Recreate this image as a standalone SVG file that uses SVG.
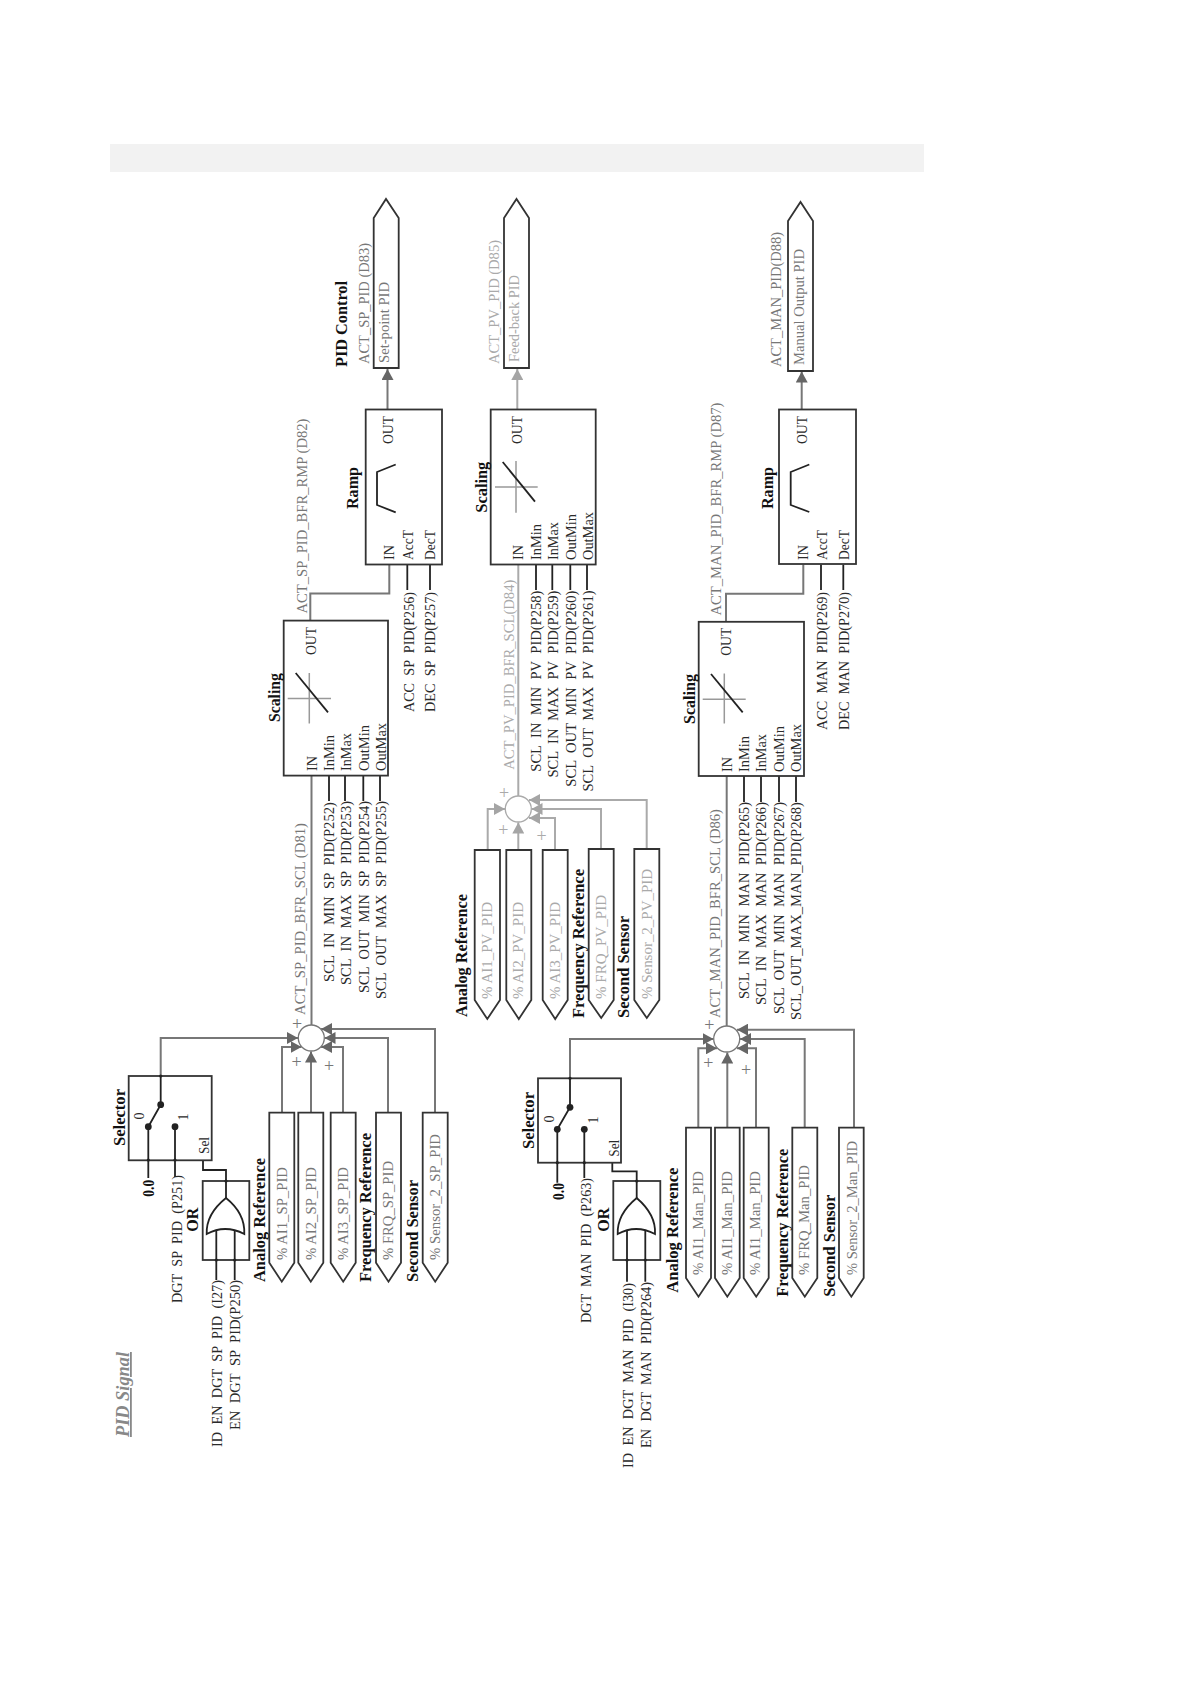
<svg xmlns="http://www.w3.org/2000/svg" width="1190" height="1684" viewBox="0 0 1190 1684">
<style>
text{font-family:"Liberation Serif","Times New Roman",serif;font-size:15px;fill:#2a2a2a}
.sp{word-spacing:4px}
.g{fill:#777}
.l{fill:#aaa}
.b{font-weight:bold;font-size:16px;fill:#111}
.s{font-size:14px}
#sp-sum text,#pv-sum text,#man-sum text{font-size:18px}
.box{fill:#fff;stroke:#333;stroke-width:1.800}
.tag{fill:#fff;stroke:#333;stroke-width:1.800}
.sum{fill:#fff;stroke:#777;stroke-width:1.300}
.suml{fill:#fff;stroke:#aaa;stroke-width:1.300}
.w{fill:none;stroke:#777;stroke-width:2}
.wl{fill:none;stroke:#aaa;stroke-width:2}
.wa{fill:none;stroke:#777;stroke-width:2;marker-end:url(#ah)}
.wal{fill:none;stroke:#aaa;stroke-width:2;marker-end:url(#ahl)}
.k{fill:none;stroke:#222;stroke-width:1.800}
.c{fill:none;stroke:#999;stroke-width:1.500}
.dot{fill:#222}
</style>
<defs>
<marker id="ah" markerUnits="userSpaceOnUse" markerWidth="12" markerHeight="12" refX="11" refY="6" orient="auto"><path d="M0 0L11 6L0 12Z" fill="#666"/></marker>
<marker id="ahl" markerUnits="userSpaceOnUse" markerWidth="12" markerHeight="12" refX="11" refY="6" orient="auto"><path d="M0 0L11 6L0 12Z" fill="#a5a5a5"/></marker>
</defs>
<rect x="110" y="144" width="814" height="28" fill="#f2f2f2"/>
<text id="title" transform="translate(129,1437) rotate(-90)" textLength="85" lengthAdjust="spacingAndGlyphs" style="font-size:18px;font-weight:bold;font-style:italic;fill:#888;text-decoration:underline">PID Signal</text>

<g id="connectors">
<path class="wa" d="M160.700 1076V1038H298"/>
<path class="wa" d="M282 1112.700V1047H301.500"/>
<path class="wa" d="M311 1112.700V1051.500"/>
<path class="wa" d="M343 1112.700V1047H321"/>
<path class="wa" d="M388 1112.700V1038H324.500"/>
<path class="wa" d="M435 1112.700V1029H321"/>
<path class="w" d="M311.500 1025V775.600"/>
<path class="w" d="M310.300 620.600V593.400H389.300V564.500"/>
<path class="wa" d="M387.500 409.500V369"/>
<path class="k" d="M329 775.600V801M345 775.600V801M363.300 775.600V801M380 775.600V801M407.300 564.500V590M430 564.500V590"/>
<path class="k" d="M148.300 1160V1178M175 1160V1177M216.300 1260V1280M234.700 1260V1280"/>
<path class="k" d="M203 1160.300V1170H226V1181"/>
<path class="wal" d="M487.700 850V809H505"/>
<path class="wal" d="M518.300 850V822.500"/>
<path class="wal" d="M555 850V818H529"/>
<path class="wal" d="M601 849V809H531.500"/>
<path class="wal" d="M646.700 849V800H529"/>
<path class="wl" d="M518.300 796V564.500"/>
<path class="wal" d="M517.300 409.500V369"/>
<path class="k" d="M536 564.500V590M552.300 564.500V590M570.300 564.500V590M587 564.500V590"/>
<path class="wa" d="M570 1078.300V1039H713.500"/>
<path class="wa" d="M698.300 1127.700V1048.300H717"/>
<path class="wa" d="M727.300 1127.700V1052.500"/>
<path class="wa" d="M756 1127.700V1048.300H737"/>
<path class="wa" d="M804.700 1127.700V1039H740"/>
<path class="wa" d="M854 1127.700V1029.700H737"/>
<path class="w" d="M726.700 1026V776"/>
<path class="w" d="M726 621.800V593.700H803.300V564.500"/>
<path class="wa" d="M801.700 409.500V371.500"/>
<path class="k" d="M744 776V802M761 776V802M779 776V802M796 776V802M821 564.500V590M843.300 564.500V590"/>
<path class="k" d="M557.300 1162.700V1182.700M584.300 1162.700V1178M627 1260V1281.700M645.300 1260V1281.700"/>
<path class="k" d="M612.300 1162.700V1171.300H636.700V1181"/>
</g>

<g id="sp-output"><path class="tag" d="M373.700 368V218L386 199L398.700 218V368Z"/>
<text class="b" transform="translate(347,367) rotate(-90)" textLength="86" lengthAdjust="spacingAndGlyphs">PID Control</text>
<text class="g" transform="translate(369,364) rotate(-90)" textLength="121" lengthAdjust="spacingAndGlyphs">ACT_SP_PID (D83)</text>
<text class="g" transform="translate(389,363) rotate(-90)" textLength="81" lengthAdjust="spacingAndGlyphs">Set-point PID</text></g>
<g id="pv-output"><path class="tag" d="M504 368V218L516.500 199L529 218V368Z"/>
<text class="l" transform="translate(499,364) rotate(-90)" textLength="124" lengthAdjust="spacingAndGlyphs">ACT_PV_PID (D85)</text>
<text class="l" transform="translate(519,362) rotate(-90)" textLength="87" lengthAdjust="spacingAndGlyphs">Feed-back PID</text></g>
<g id="man-output"><path class="tag" d="M788 371V221L800.500 202L813 221V371Z"/>
<text class="g" transform="translate(781,367) rotate(-90)" textLength="135" lengthAdjust="spacingAndGlyphs">ACT_MAN_PID(D88)</text>
<text class="g" transform="translate(804,365) rotate(-90)" textLength="116" lengthAdjust="spacingAndGlyphs">Manual Output PID</text></g>

<g id="sp-ramp"><rect class="box" x="365.700" y="409.500" width="76.300" height="155"/>
<path class="k" d="M395.700 464.500L377 472V505L395.700 512.300"/>
<text class="b" transform="translate(358,509) rotate(-90)" textLength="42" lengthAdjust="spacingAndGlyphs">Ramp</text>
<text transform="translate(393,444) rotate(-90)" textLength="28" lengthAdjust="spacingAndGlyphs">OUT</text>
<text transform="translate(394,560) rotate(-90)" textLength="15" lengthAdjust="spacingAndGlyphs">IN</text>
<text transform="translate(413,560) rotate(-90)" textLength="30" lengthAdjust="spacingAndGlyphs">AccT</text>
<text transform="translate(435,560) rotate(-90)" textLength="30" lengthAdjust="spacingAndGlyphs">DecT</text>
<text class="g" transform="translate(307,613.500) rotate(-90)" textLength="195" lengthAdjust="spacingAndGlyphs">ACT_SP_PID_BFR_RMP (D82)</text>
<text class="sp" transform="translate(414,712) rotate(-90)" textLength="120" lengthAdjust="spacingAndGlyphs">ACC SP PID(P256)</text>
<text class="sp" transform="translate(435,712) rotate(-90)" textLength="120" lengthAdjust="spacingAndGlyphs">DEC SP PID(P257)</text></g>

<g id="sp-scaling"><rect class="box" x="283.700" y="620.600" width="104.300" height="155"/>
<path class="c" d="M309.300 673V723.500M287.700 698.500H331"/><path class="k" d="M295.700 673L328 712.400"/>
<text class="b" transform="translate(280,722) rotate(-90)" textLength="49" lengthAdjust="spacingAndGlyphs">Scaling</text>
<text transform="translate(316,655) rotate(-90)" textLength="28" lengthAdjust="spacingAndGlyphs">OUT</text>
<text transform="translate(317,771) rotate(-90)" textLength="15" lengthAdjust="spacingAndGlyphs">IN</text>
<text transform="translate(334,771) rotate(-90)" textLength="36" lengthAdjust="spacingAndGlyphs">InMin</text>
<text transform="translate(350.700,771) rotate(-90)" textLength="38" lengthAdjust="spacingAndGlyphs">InMax</text>
<text transform="translate(369,771) rotate(-90)" textLength="46" lengthAdjust="spacingAndGlyphs">OutMin</text>
<text transform="translate(385.700,771) rotate(-90)" textLength="48" lengthAdjust="spacingAndGlyphs">OutMax</text>
<text class="g" transform="translate(305,1015) rotate(-90)" textLength="192" lengthAdjust="spacingAndGlyphs">ACT_SP_PID_BFR_SCL (D81)</text>
<text class="sp" transform="translate(334,982) rotate(-90)" textLength="180" lengthAdjust="spacingAndGlyphs">SCL IN MIN SP PID(P252)</text>
<text class="sp" transform="translate(350.700,985) rotate(-90)" textLength="184" lengthAdjust="spacingAndGlyphs">SCL IN MAX SP PID(P253)</text>
<text class="sp" transform="translate(369,993) rotate(-90)" textLength="192" lengthAdjust="spacingAndGlyphs">SCL OUT MIN SP PID(P254)</text>
<text class="sp" transform="translate(385.700,999) rotate(-90)" textLength="198" lengthAdjust="spacingAndGlyphs">SCL OUT MAX SP PID(P255)</text></g>

<g id="sp-sum"><circle class="sum" cx="311.300" cy="1038" r="13"/>
<text class="g" x="297" y="1030" text-anchor="middle">+</text>
<text class="g" x="296.700" y="1068" text-anchor="middle">+</text>
<text class="g" x="329" y="1072" text-anchor="middle">+</text></g>

<g id="sp-selector"><rect class="box" x="128.700" y="1076" width="83" height="84.300"/>
<path class="k" d="M160.700 1076V1104.700L148.300 1126.700V1160M175 1126.700V1160"/>
<circle class="dot" cx="160.700" cy="1104.700" r="3.400"/><circle class="dot" cx="148.300" cy="1126.700" r="3.400"/><circle class="dot" cx="175" cy="1126.700" r="3.400"/>
<circle class="dot" cx="160.700" cy="1076" r="1.600"/><circle class="dot" cx="148.300" cy="1160" r="1.600"/><circle class="dot" cx="175" cy="1160" r="1.600"/>
<text class="b" transform="translate(125,1146) rotate(-90)" textLength="57" lengthAdjust="spacingAndGlyphs">Selector</text>
<text class="s" transform="translate(144,1119.500) rotate(-90)">0</text>
<text class="s" transform="translate(188,1120.500) rotate(-90)">1</text>
<text class="s" transform="translate(209,1154) rotate(-90)" textLength="17" lengthAdjust="spacingAndGlyphs">Sel</text>
<text class="b" transform="translate(154,1196.700) rotate(-90)" textLength="17" lengthAdjust="spacingAndGlyphs">0.0</text>
<text class="sp" transform="translate(182,1303) rotate(-90)" textLength="128" lengthAdjust="spacingAndGlyphs">DGT SP PID (P251)</text></g>

<g id="sp-or"><rect class="box" x="202.700" y="1181" width="46.600" height="79"/>
<path class="k" d="M226 1181V1198M216.300 1230V1260M234.700 1230V1260"/>
<path class="k" d="M206.700 1234C206 1218 216 1206 226 1198C236 1206 245 1218 244.300 1234Q225 1224 206.700 1234Z"/>
<circle class="dot" cx="226" cy="1181" r="1.600"/><circle class="dot" cx="216.300" cy="1260" r="1.600"/><circle class="dot" cx="234.700" cy="1260" r="1.600"/>
<text class="b" transform="translate(198,1231.700) rotate(-90)" textLength="24" lengthAdjust="spacingAndGlyphs">OR</text>
<text class="sp" transform="translate(222,1447) rotate(-90)" textLength="167" lengthAdjust="spacingAndGlyphs">ID EN DGT SP PID (I27)</text>
<text class="sp" transform="translate(240,1430) rotate(-90)" textLength="150" lengthAdjust="spacingAndGlyphs">EN DGT SP PID(P250)</text></g>

<g id="sp-inputs">
<text class="b" transform="translate(265,1282) rotate(-90)" textLength="124" lengthAdjust="spacingAndGlyphs">Analog Reference</text>
<path class="tag" d="M269.300 1112.700H294.300V1262.700L281.800 1281.700L269.300 1262.700Z"/>
<text class="g" transform="translate(286.500,1260) rotate(-90)" textLength="93" lengthAdjust="spacingAndGlyphs">% AI1_SP_PID</text>
<path class="tag" d="M298.300 1112.700H323.300V1262.700L310.800 1281.700L298.300 1262.700Z"/>
<text class="g" transform="translate(315.500,1260) rotate(-90)" textLength="93" lengthAdjust="spacingAndGlyphs">% AI2_SP_PID</text>
<path class="tag" d="M330.700 1112.700H355.700V1262.700L343.200 1281.700L330.700 1262.700Z"/>
<text class="g" transform="translate(347.500,1260) rotate(-90)" textLength="93" lengthAdjust="spacingAndGlyphs">% AI3_SP_PID</text>
<text class="b" transform="translate(371,1282) rotate(-90)" textLength="149" lengthAdjust="spacingAndGlyphs">Frequency Reference</text>
<path class="tag" d="M376 1112.700H401V1262.700L388.500 1281.700L376 1262.700Z"/>
<text class="g" transform="translate(393,1260) rotate(-90)" textLength="99" lengthAdjust="spacingAndGlyphs">% FRQ_SP_PID</text>
<text class="b" transform="translate(418,1282) rotate(-90)" textLength="102" lengthAdjust="spacingAndGlyphs">Second Sensor</text>
<path class="tag" d="M422.700 1112.700H447.700V1262.700L435.200 1281.700L422.700 1262.700Z"/>
<text class="g" transform="translate(440,1260) rotate(-90)" textLength="126" lengthAdjust="spacingAndGlyphs">% Sensor_2_SP_PID</text></g>

<g id="pv-scaling"><rect class="box" x="490.700" y="409.500" width="105" height="155"/>
<path class="c" d="M516 461V512.700M495 487H537.700"/><path class="k" d="M502.700 462L535 501.600"/>
<text class="b" transform="translate(487,512.700) rotate(-90)" textLength="51" lengthAdjust="spacingAndGlyphs">Scaling</text>
<text transform="translate(522.300,444) rotate(-90)" textLength="28" lengthAdjust="spacingAndGlyphs">OUT</text>
<text transform="translate(523.300,560) rotate(-90)" textLength="15" lengthAdjust="spacingAndGlyphs">IN</text>
<text transform="translate(541,560) rotate(-90)" textLength="36" lengthAdjust="spacingAndGlyphs">InMin</text>
<text transform="translate(557.700,560) rotate(-90)" textLength="38" lengthAdjust="spacingAndGlyphs">InMax</text>
<text transform="translate(575.700,560) rotate(-90)" textLength="46" lengthAdjust="spacingAndGlyphs">OutMin</text>
<text transform="translate(592.700,560) rotate(-90)" textLength="48" lengthAdjust="spacingAndGlyphs">OutMax</text>
<text class="l" transform="translate(514,769.700) rotate(-90)" textLength="190" lengthAdjust="spacingAndGlyphs">ACT_PV_PID_BFR_SCL(D84)</text>
<text class="sp" transform="translate(541,771.700) rotate(-90)" textLength="181" lengthAdjust="spacingAndGlyphs">SCL IN MIN PV PID(P258)</text>
<text class="sp" transform="translate(557.700,777.600) rotate(-90)" textLength="187" lengthAdjust="spacingAndGlyphs">SCL IN MAX PV PID(P259)</text>
<text class="sp" transform="translate(575.700,786.700) rotate(-90)" textLength="196" lengthAdjust="spacingAndGlyphs">SCL OUT MIN PV PID(P260)</text>
<text class="sp" transform="translate(592.700,791.500) rotate(-90)" textLength="201" lengthAdjust="spacingAndGlyphs">SCL OUT MAX PV PID(P261)</text></g>

<g id="pv-sum"><circle class="suml" cx="518.300" cy="809" r="13"/>
<text class="l" x="504" y="798.500" text-anchor="middle">+</text>
<text class="l" x="503.300" y="836" text-anchor="middle">+</text>
<text class="l" x="541.700" y="842" text-anchor="middle">+</text></g>

<g id="pv-inputs">
<text class="b" transform="translate(466.700,1017) rotate(-90)" textLength="123" lengthAdjust="spacingAndGlyphs">Analog Reference</text>
<path class="tag" d="M474.700 850H500V1000L487.300 1019L474.700 1000Z"/>
<text class="l" transform="translate(491.700,999) rotate(-90)" textLength="97" lengthAdjust="spacingAndGlyphs">% AI1_PV_PID</text>
<path class="tag" d="M506.300 850H531.300V1000L518.800 1019L506.300 1000Z"/>
<text class="l" transform="translate(523.300,999) rotate(-90)" textLength="97" lengthAdjust="spacingAndGlyphs">% AI2_PV_PID</text>
<path class="tag" d="M542.700 850H567.700V1000L555.200 1019L542.700 1000Z"/>
<text class="l" transform="translate(559.700,999) rotate(-90)" textLength="97" lengthAdjust="spacingAndGlyphs">% AI3_PV_PID</text>
<text class="b" transform="translate(584,1018) rotate(-90)" textLength="149" lengthAdjust="spacingAndGlyphs">Frequency Reference</text>
<path class="tag" d="M588.700 849H613.700V1000L601.200 1018L588.700 1000Z"/>
<text class="l" transform="translate(606,999) rotate(-90)" textLength="104" lengthAdjust="spacingAndGlyphs">% FRQ_PV_PID</text>
<text class="b" transform="translate(629,1018) rotate(-90)" textLength="102" lengthAdjust="spacingAndGlyphs">Second Sensor</text>
<path class="tag" d="M634.300 849H659.300V1000L646.800 1018L634.300 1000Z"/>
<text class="l" transform="translate(651.700,999) rotate(-90)" textLength="130" lengthAdjust="spacingAndGlyphs">% Sensor_2_PV_PID</text></g>

<g id="man-ramp"><rect class="box" x="779" y="409.500" width="77" height="154.500"/>
<path class="k" d="M809.300 464.500L790.700 472V505L809.300 512"/>
<text class="b" transform="translate(773.300,509) rotate(-90)" textLength="42" lengthAdjust="spacingAndGlyphs">Ramp</text>
<text transform="translate(806.700,444) rotate(-90)" textLength="28" lengthAdjust="spacingAndGlyphs">OUT</text>
<text transform="translate(807.700,560) rotate(-90)" textLength="15" lengthAdjust="spacingAndGlyphs">IN</text>
<text transform="translate(827.300,560) rotate(-90)" textLength="30" lengthAdjust="spacingAndGlyphs">AccT</text>
<text transform="translate(849,560) rotate(-90)" textLength="30" lengthAdjust="spacingAndGlyphs">DecT</text>
<text class="g" transform="translate(721,615.500) rotate(-90)" textLength="213" lengthAdjust="spacingAndGlyphs">ACT_MAN_PID_BFR_RMP (D87)</text>
<text class="sp" transform="translate(827,730) rotate(-90)" textLength="138" lengthAdjust="spacingAndGlyphs">ACC MAN PID(P269)</text>
<text class="sp" transform="translate(849,730) rotate(-90)" textLength="138" lengthAdjust="spacingAndGlyphs">DEC MAN PID(P270)</text></g>

<g id="man-scaling"><rect class="box" x="698.700" y="621.800" width="105.300" height="154.200"/>
<path class="c" d="M724.300 673.600V723.500M702.700 699.300H745.700"/><path class="k" d="M711 674L742.700 712.400"/>
<text class="b" transform="translate(695,724) rotate(-90)" textLength="50" lengthAdjust="spacingAndGlyphs">Scaling</text>
<text transform="translate(731,655.800) rotate(-90)" textLength="28" lengthAdjust="spacingAndGlyphs">OUT</text>
<text transform="translate(731.700,772) rotate(-90)" textLength="15" lengthAdjust="spacingAndGlyphs">IN</text>
<text transform="translate(749,772) rotate(-90)" textLength="36" lengthAdjust="spacingAndGlyphs">InMin</text>
<text transform="translate(766,772) rotate(-90)" textLength="38" lengthAdjust="spacingAndGlyphs">InMax</text>
<text transform="translate(784,772) rotate(-90)" textLength="46" lengthAdjust="spacingAndGlyphs">OutMin</text>
<text transform="translate(801,772) rotate(-90)" textLength="48" lengthAdjust="spacingAndGlyphs">OutMax</text>
<text class="g" transform="translate(720,1018) rotate(-90)" textLength="209" lengthAdjust="spacingAndGlyphs">ACT_MAN_PID_BFR_SCL (D86)</text>
<text class="sp" transform="translate(749,999) rotate(-90)" textLength="197" lengthAdjust="spacingAndGlyphs">SCL IN MIN MAN PID(P265)</text>
<text class="sp" transform="translate(766,1005) rotate(-90)" textLength="203" lengthAdjust="spacingAndGlyphs">SCL IN MAX MAN PID(P266)</text>
<text class="sp" transform="translate(784,1014) rotate(-90)" textLength="212" lengthAdjust="spacingAndGlyphs">SCL OUT MIN MAN PID(P267)</text>
<text transform="translate(801,1020) rotate(-90)" textLength="218" lengthAdjust="spacingAndGlyphs">SCL_OUT_MAX_MAN_PID(P268)</text></g>

<g id="man-sum"><circle class="sum" cx="726.700" cy="1039" r="13"/>
<text class="g" x="709.300" y="1031" text-anchor="middle">+</text>
<text class="g" x="708.300" y="1069" text-anchor="middle">+</text>
<text class="g" x="746" y="1076" text-anchor="middle">+</text></g>

<g id="man-selector"><rect class="box" x="538" y="1078.300" width="83" height="84.400"/>
<path class="k" d="M570 1078.300V1107.300L557.300 1129.300V1162.700M584.300 1129.300V1162.700"/>
<circle class="dot" cx="570" cy="1107.300" r="3.400"/><circle class="dot" cx="557.300" cy="1129.300" r="3.400"/><circle class="dot" cx="584.300" cy="1129.300" r="3.400"/>
<circle class="dot" cx="570" cy="1078.300" r="1.600"/><circle class="dot" cx="557.300" cy="1162.700" r="1.600"/><circle class="dot" cx="584.300" cy="1162.700" r="1.600"/>
<text class="b" transform="translate(534,1149) rotate(-90)" textLength="57" lengthAdjust="spacingAndGlyphs">Selector</text>
<text class="s" transform="translate(554,1122.500) rotate(-90)">0</text>
<text class="s" transform="translate(598,1123.500) rotate(-90)">1</text>
<text class="s" transform="translate(618.500,1156.700) rotate(-90)" textLength="17" lengthAdjust="spacingAndGlyphs">Sel</text>
<text class="b" transform="translate(563.500,1200) rotate(-90)" textLength="17" lengthAdjust="spacingAndGlyphs">0.0</text>
<text class="sp" transform="translate(591,1323) rotate(-90)" textLength="145" lengthAdjust="spacingAndGlyphs">DGT MAN PID (P263)</text></g>

<g id="man-or"><rect class="box" x="613.300" y="1181" width="47" height="79"/>
<path class="k" d="M636.700 1181V1198M627 1230V1260M645.300 1230V1260"/>
<path class="k" d="M617.700 1234C617 1218 627 1206 636.700 1198C646 1206 656 1218 655 1234Q636 1224 617.700 1234Z"/>
<circle class="dot" cx="636.700" cy="1181" r="1.600"/><circle class="dot" cx="627" cy="1260" r="1.600"/><circle class="dot" cx="645.300" cy="1260" r="1.600"/>
<text class="b" transform="translate(608.500,1231.700) rotate(-90)" textLength="24" lengthAdjust="spacingAndGlyphs">OR</text>
<text class="sp" transform="translate(633.300,1468) rotate(-90)" textLength="185" lengthAdjust="spacingAndGlyphs">ID EN DGT MAN PID (I30)</text>
<text class="sp" transform="translate(650.700,1448) rotate(-90)" textLength="166" lengthAdjust="spacingAndGlyphs">EN DGT MAN PID(P264)</text></g>

<g id="man-inputs">
<text class="b" transform="translate(678,1292.700) rotate(-90)" textLength="125" lengthAdjust="spacingAndGlyphs">Analog Reference</text>
<path class="tag" d="M686 1127.700H711V1278L698.500 1296.700L686 1278Z"/>
<text class="g" transform="translate(703,1275) rotate(-90)" textLength="104" lengthAdjust="spacingAndGlyphs">% AI1_Man_PID</text>
<path class="tag" d="M715 1127.700H739.700V1278L727.300 1296.700L715 1278Z"/>
<text class="g" transform="translate(732,1275) rotate(-90)" textLength="104" lengthAdjust="spacingAndGlyphs">% AI1_Man_PID</text>
<path class="tag" d="M743.700 1127.700H768.700V1278L756.200 1296.700L743.700 1278Z"/>
<text class="g" transform="translate(760,1275) rotate(-90)" textLength="104" lengthAdjust="spacingAndGlyphs">% AI1_Man_PID</text>
<text class="b" transform="translate(788,1296.700) rotate(-90)" textLength="148" lengthAdjust="spacingAndGlyphs">Frequency Reference</text>
<path class="tag" d="M792.300 1127.700H817.300V1278L804.800 1296.700L792.300 1278Z"/>
<text class="g" transform="translate(809,1275) rotate(-90)" textLength="110" lengthAdjust="spacingAndGlyphs">% FRQ_Man_PID</text>
<text class="b" transform="translate(834.500,1296.700) rotate(-90)" textLength="102" lengthAdjust="spacingAndGlyphs">Second Sensor</text>
<path class="tag" d="M839 1127.700H863.700V1278L851.300 1296.700L839 1278Z"/>
<text class="g" transform="translate(856.700,1275) rotate(-90)" textLength="134" lengthAdjust="spacingAndGlyphs">% Sensor_2_Man_PID</text></g>
</svg>
